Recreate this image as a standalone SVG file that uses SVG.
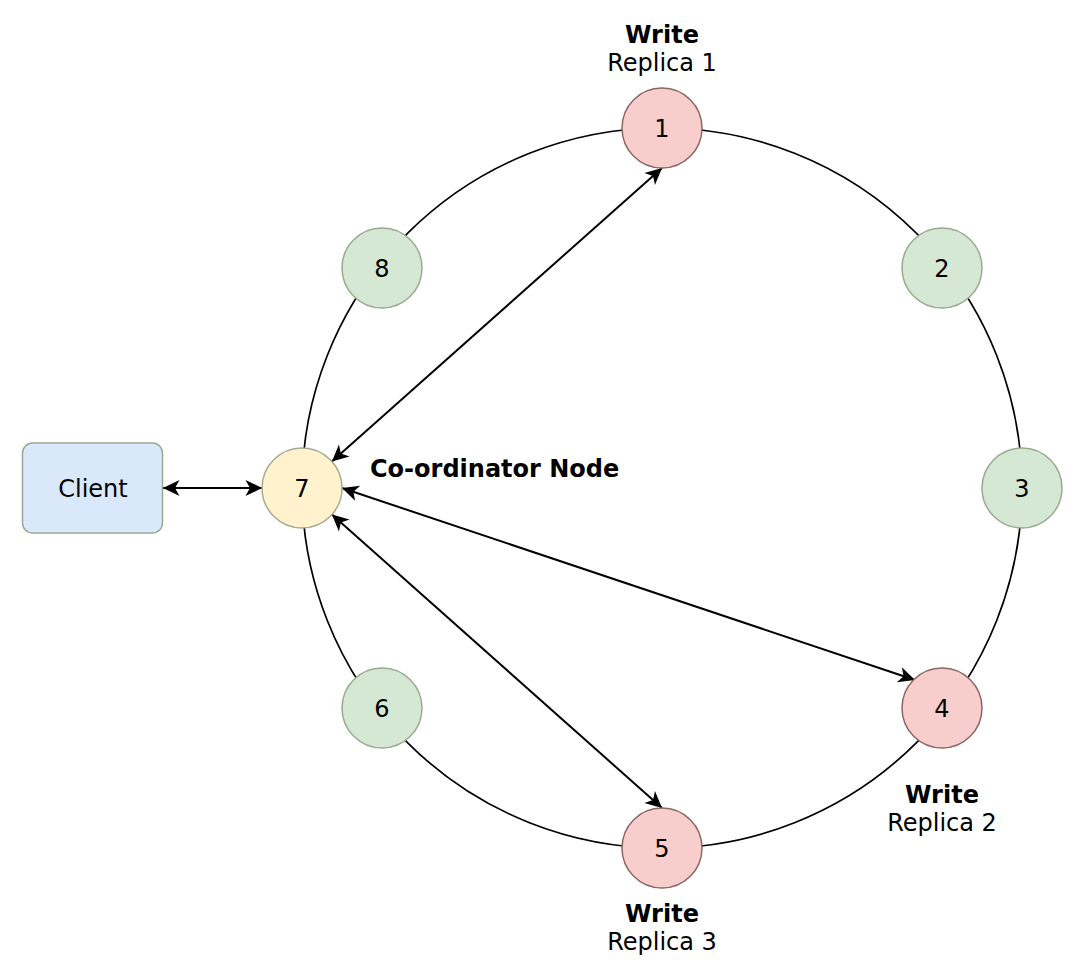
<svg xmlns="http://www.w3.org/2000/svg" width="1082" height="974" viewBox="0 0 1082 974">
<style>
  text { font-family: "DejaVu Sans", Verdana, sans-serif; font-size: 24px; fill: #000; }
  .b { font-weight: bold; }
  .lbl { text-anchor: middle; }
  .green { fill: #d5e8d4; stroke: #9aaa90; stroke-width: 1.5; }
  .pink { fill: #f8cecc; stroke: #8c6664; stroke-width: 1.5; }
  .yellow { fill: #fff2cc; stroke: #a6ab94; stroke-width: 1.5; }
  .blue { fill: #dae8fc; stroke: #9aaa90; stroke-width: 1.5; }
  .edge { fill: none; stroke: #000; stroke-width: 2; }
  .ring { fill: none; stroke: #000; stroke-width: 1.7; }
</style>
<defs>
  <marker id="arr" markerUnits="userSpaceOnUse" viewBox="-18 -10 19 20" refX="0" refY="0" markerWidth="19" markerHeight="20" orient="auto-start-reverse">
    <path d="M0,0 L-16.5,-8 L-12,0 L-16.5,8 Z" fill="#000"/>
  </marker>
</defs>
<rect width="1082" height="974" fill="#fff"/>
<circle class="ring" cx="662" cy="488" r="360"/>
<g id="connectors">
  <line class="edge" x1="163" y1="488" x2="262" y2="488" marker-start="url(#arr)" marker-end="url(#arr)"/>
  <line class="edge" x1="331.9" y1="461.4" x2="662" y2="168" marker-start="url(#arr)" marker-end="url(#arr)"/>
  <line class="edge" x1="331.9" y1="514.6" x2="662" y2="808" marker-start="url(#arr)" marker-end="url(#arr)"/>
  <line class="edge" x1="342" y1="488" x2="915" y2="680" marker-start="url(#arr)" marker-end="url(#arr)"/>
</g>
<g id="node1"><circle class="pink" cx="662" cy="128" r="40"/><text class="lbl" x="662" y="137">1</text></g>
<g id="node2"><circle class="green" cx="942" cy="268" r="40"/><text class="lbl" x="942" y="277">2</text></g>
<g id="node3"><circle class="green" cx="1022" cy="488" r="40"/><text class="lbl" x="1022" y="497">3</text></g>
<g id="node4"><circle class="pink" cx="942" cy="708" r="40"/><text class="lbl" x="942" y="717">4</text></g>
<g id="node5"><circle class="pink" cx="662" cy="848" r="40"/><text class="lbl" x="662" y="857">5</text></g>
<g id="node6"><circle class="green" cx="382" cy="708" r="40"/><text class="lbl" x="382" y="717">6</text></g>
<g id="node7"><circle class="yellow" cx="302" cy="488" r="40"/><text class="lbl" x="302" y="497">7</text></g>
<g id="node8"><circle class="green" cx="382" cy="268" r="40"/><text class="lbl" x="382" y="277">8</text></g>
<g id="client"><rect class="blue" x="22.5" y="443" width="140" height="90" rx="10" ry="10"/><text class="lbl" x="93" y="497">Client</text></g>
<g id="label-coordinator"><text class="b" x="370" y="477">Co-ordinator Node</text></g>
<g id="label-replica1"><text class="lbl b" x="662" y="43">Write</text><text class="lbl" x="662" y="71">Replica 1</text></g>
<g id="label-replica2"><text class="lbl b" x="942" y="803">Write</text><text class="lbl" x="942" y="831">Replica 2</text></g>
<g id="label-replica3"><text class="lbl b" x="662" y="922">Write</text><text class="lbl" x="662" y="950">Replica 3</text></g>
</svg>
